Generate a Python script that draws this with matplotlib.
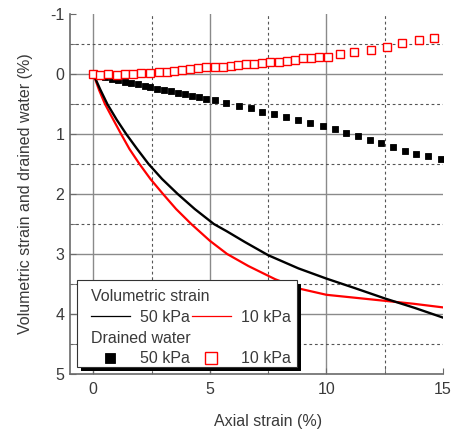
import matplotlib
matplotlib.use('Agg')
import matplotlib.pyplot as plt
from matplotlib.patches import Rectangle

plt.rcParams['font.family'] = ['Liberation Sans', 'DejaVu Sans']
plt.rcParams['axes.unicode_minus'] = False

# Deformation volumique (%) en fonction de la deformation axiale (%)
vol_x_50 = [0, 0.3, 0.6, 1.0, 1.41, 1.88, 2.37, 2.95, 3.62, 4.35, 5.17, 5.72, 6.5, 7.5,
            8.8, 10, 11.23, 12.5, 13.8, 15]
vol_y_50 = [0, 0.26, 0.5, 0.76, 1.0, 1.25, 1.5, 1.75, 2.0, 2.25, 2.5, 2.62, 2.8, 3.02,
            3.24, 3.41, 3.57, 3.74, 3.9, 4.06]
vol_x_10 = [0, 0.25, 0.5, 0.8, 1.19, 1.55, 1.98, 2.45, 2.99, 3.55, 4.2, 5.0, 5.74, 6.65,
            7.8, 8.87, 10, 11.25, 12.5, 13.75, 15]
vol_y_10 = [0, 0.27, 0.5, 0.72, 1.0, 1.25, 1.5, 1.75, 2.0, 2.25, 2.5, 2.78, 3.0, 3.2,
            3.42, 3.58, 3.68, 3.73, 3.78, 3.83, 3.89]

# Eau drainee (%)
dw_x_50 = [0, 0.2, 0.5, 0.8, 1.05, 1.35, 1.6, 1.9, 2.2, 2.45, 2.75, 3.05, 3.35, 3.65, 3.95,
           4.25, 4.55, 4.85, 5.2, 5.7, 6.25, 6.75, 7.25, 7.75, 8.25, 8.8, 9.3, 9.85, 10.35,
           10.85, 11.35, 11.85, 12.35, 12.85, 13.35, 13.85, 14.35, 14.9]
dw_y_50 = [0, 0.02, 0.05, 0.08, 0.1, 0.13, 0.15, 0.17, 0.2, 0.22, 0.25, 0.27, 0.29, 0.31,
           0.33, 0.36, 0.38, 0.41, 0.43, 0.49, 0.54, 0.56, 0.63, 0.67, 0.72, 0.77, 0.82,
           0.87, 0.91, 0.98, 1.04, 1.10, 1.15, 1.21, 1.28, 1.33, 1.37, 1.42]
dw_x_10 = [0, 0.3, 0.65, 1.0, 1.35, 1.7, 2.05, 2.45, 2.8, 3.15, 3.45, 3.8, 4.15, 4.5, 4.85,
           5.2, 5.55, 5.9, 6.2, 6.55, 6.9, 7.25, 7.6, 7.95, 8.3, 8.65, 9.0, 9.35, 9.7,
           10.05, 10.6, 11.2, 11.9, 12.6, 13.25, 13.95, 14.6]
dw_y_10 = [0, 0.02, 0.0, 0.02, 0.0, 0.0, -0.01, -0.02, -0.03, -0.04, -0.05, -0.07, -0.09,
           -0.1, -0.11, -0.12, -0.12, -0.13, -0.15, -0.16, -0.17, -0.18, -0.2, -0.2, -0.21,
           -0.24, -0.26, -0.27, -0.29, -0.29, -0.33, -0.36, -0.4, -0.45, -0.51, -0.56, -0.6]

x_major = [0, 5, 10, 15]
x_minor = [2.5, 7.5, 12.5]
y_major = [-1, 0, 1, 2, 3, 4, 5]
y_minor = [-0.5, 0.5, 1.5, 2.5, 3.5, 4.5]

txt = '#3a3a3a'
fs = 11.5

fig = plt.figure(figsize=(4.52, 4.30), dpi=100)
ax = fig.add_axes([70 / 452, 56 / 430, 373 / 452, 360 / 430])

ax.plot(vol_x_10, vol_y_10, color='red', lw=1.6, zorder=3)
ax.plot(vol_x_50, vol_y_50, color='black', lw=1.7, zorder=3)
ax.plot(dw_x_50, dw_y_50, 's', color='black', ms=4.9, mew=0.6, zorder=3)
ax.plot(dw_x_10, dw_y_10, 's', mfc='white', mec='red', mew=1.0, ms=5.6, zorder=3)

ax.set_xlim(-1, 15)
ax.set_ylim(5, -1)
ax.set_xticks(x_major)
ax.set_xticks(x_minor, minor=True)
ax.set_yticks(y_major)
ax.set_yticks(y_minor, minor=True)

ax.grid(True, which='major', color='#8a8a8a', lw=1.0, zorder=0)
ax.grid(True, which='minor', color='#555555', lw=0.8, ls=(0, (2.5, 2.5)), zorder=0)
# pas de ligne de grille sur les bords
ax.xaxis.get_major_ticks()[-1].gridline.set_visible(False)
ax.yaxis.get_major_ticks()[0].gridline.set_visible(False)
ax.yaxis.get_major_ticks()[-1].gridline.set_visible(False)
ax.set_axisbelow(True)

for s in ['top', 'right']:
    ax.spines[s].set_visible(False)
for s in ['left', 'bottom']:
    ax.spines[s].set_color('#6a6a6a')
    ax.spines[s].set_linewidth(1.2)

ax.tick_params(which='both', direction='in', length=4, color='#6a6a6a',
               labelsize=fs, labelcolor=txt)
ax.tick_params(axis='y', which='both', pad=4)
ax.tick_params(axis='x', which='both', pad=6)

ax.set_xlabel('Axial strain (%)', fontsize=fs, color=txt)
ax.set_ylabel('Volumetric strain and drained water (%)', fontsize=fs, color=txt)
ax.xaxis.set_label_coords(8.5 / 16, -0.11)
ax.yaxis.set_label_coords(-0.098, 0.5)

# cadre de la legende avec ombre
x0, y0, w, h = 7 / 373, 7 / 360, 220 / 373, 87 / 360
ax.add_patch(Rectangle((x0 + 4 / 373, y0 - 4 / 360), w, h, transform=ax.transAxes,
                       facecolor='black', edgecolor='none', zorder=4, clip_on=False))
ax.add_patch(Rectangle((x0, y0), w, h, transform=ax.transAxes, facecolor='white',
                       edgecolor='#333333', lw=0.8, zorder=4.1, clip_on=False))

lines = ax.get_lines()
opts = dict(ncol=2, loc='upper left', frameon=False, fontsize=fs, title_fontsize=fs,
            alignment='left', borderpad=0, borderaxespad=0, handlelength=2.5,
            handletextpad=0.6, columnspacing=0.1, labelspacing=0.35, markerscale=1.45)
leg1 = ax.legend([lines[1], lines[0]], ['50 kPa', '10 kPa'], title='Volumetric strain',
                 bbox_to_anchor=(0.055, 0.236), **opts)
for l in leg1.get_lines():
    l.set_linewidth(0.9)
leg1.set_zorder(5)
ax.add_artist(leg1)
leg2 = ax.legend([lines[2], lines[3]], ['50 kPa', '10 kPa'], title='Drained water',
                 bbox_to_anchor=(0.055, 0.12), **opts)
leg2.set_zorder(5)
for lg in (leg1, leg2):
    lg.get_title().set_color(txt)
    for t in lg.get_texts():
        t.set_color(txt)

fig.savefig('out.png', dpi=100)
